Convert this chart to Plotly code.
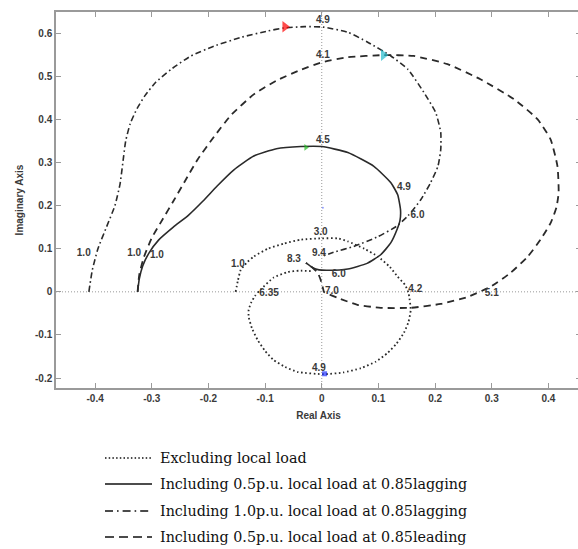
import plotly.graph_objects as go

# ---- data ----
excl_x = [-0.152, -0.148, -0.143, -0.132, -0.12, -0.095, -0.067, -0.037, 0.0, 0.028, 0.046, 0.075, 0.099, 0.12, 0.134,
          0.147, 0.153, 0.157, 0.153, 0.145, 0.132, 0.116, 0.095, 0.069, 0.038, 0.004, -0.042, -0.065, -0.085, -0.1,
          -0.113, -0.123, -0.129, -0.129, -0.125, -0.118, -0.108, -0.085, -0.06, -0.04, -0.015]
excl_y = [0.0, 0.026, 0.051, 0.068, 0.082, 0.1, 0.112, 0.121, 0.124, 0.124, 0.117, 0.1, 0.082, 0.058, 0.035,
          0.016, -0.002, -0.042, -0.07, -0.095, -0.12, -0.142, -0.162, -0.177, -0.187, -0.191, -0.186, -0.174, -0.158, -0.137,
          -0.112, -0.085, -0.058, -0.042, -0.026, -0.01, 0.005, 0.033, 0.046, 0.049, 0.048]

lag05_x = [-0.325, -0.322, -0.316, -0.305, -0.288, -0.262, -0.235, -0.21, -0.185, -0.155, -0.12, -0.08, -0.037, 0.0,
           0.046, 0.092, 0.122, 0.134, 0.139, 0.138, 0.133, 0.122, 0.104, 0.08, 0.046, 0.011, -0.005, -0.016, -0.028]
lag05_y = [0.0, 0.03, 0.06, 0.09, 0.12, 0.15, 0.178, 0.21, 0.245, 0.283, 0.315, 0.332, 0.337, 0.337,
           0.323, 0.291, 0.253, 0.225, 0.19, 0.165, 0.145, 0.114, 0.086, 0.066, 0.053, 0.05, 0.051, 0.056, 0.067]

lag10_x = [-0.411, -0.405, -0.395, -0.38, -0.365, -0.356, -0.351, -0.346, -0.338, -0.326, -0.312, -0.293, -0.266,
           -0.231, -0.19, -0.143, -0.095, -0.067, -0.03, 0.002, 0.046, 0.081, 0.122, 0.152, 0.18, 0.201, 0.21, 0.21,
           0.205, 0.192, 0.175, 0.152, 0.132, 0.099, 0.056, 0.021, 0.0]
lag10_y = [0.0, 0.05, 0.1, 0.15, 0.2, 0.25, 0.3, 0.35, 0.39, 0.425, 0.455, 0.486, 0.516,
           0.547, 0.57, 0.59, 0.605, 0.612, 0.615, 0.614, 0.602, 0.579, 0.547, 0.516, 0.463, 0.416, 0.37, 0.33,
           0.291, 0.253, 0.214, 0.176, 0.152, 0.128, 0.105, 0.092, 0.082]

lead05_x = [-0.325, -0.322, -0.314, -0.3, -0.28, -0.262, -0.24, -0.219, -0.19, -0.16, -0.12, -0.08, -0.037, 0.002,
            0.046, 0.109, 0.162, 0.222, 0.28, 0.339, 0.381, 0.404, 0.416, 0.418, 0.414, 0.404, 0.386, 0.363, 0.333,
            0.298, 0.257, 0.21, 0.157, 0.104, 0.063, 0.028, 0.004, 0.002, -0.002, -0.007, -0.016, -0.028]
lead05_y = [0.0, 0.04, 0.08, 0.125, 0.17, 0.21, 0.26, 0.307, 0.36, 0.41, 0.458, 0.49, 0.515, 0.533,
            0.544, 0.549, 0.547, 0.528, 0.493, 0.447, 0.4, 0.353, 0.291, 0.23, 0.195, 0.16, 0.121, 0.081, 0.044,
            0.012, -0.012, -0.028, -0.037, -0.037, -0.03, -0.014, 0.0, 0.009, 0.028, 0.044, 0.056, 0.067]

series_names = ["Excluding local load",
                "Including 0.5p.u. local load at 0.85lagging",
                "Including 1.0p.u. local load at 0.85lagging",
                "Including 0.5p.u. local load at 0.85leading"]

label_x = [0.002, 0.002, 0.002, 0.145, 0.169, -0.002, -0.005, -0.049, 0.03, 0.018, 0.165, 0.3, -0.005,
           -0.148, -0.093, -0.42, -0.331, -0.291]
label_y = [0.63, 0.548, 0.35, 0.243, 0.176, 0.138, 0.088, 0.074, 0.04, 0.0, 0.005, -0.004, -0.177,
           0.063, -0.003, 0.09, 0.09, 0.084]
label_text = ["4.9", "4.1", "4.5", "4.9", "6.0", "3.0", "9.4", "8.3", "6.0", "7.0", "4.2", "5.1", "4.9",
              "1.0", "6.35", "1.0", "1.0", "1.0"]

marker_x = [-0.065, 0.109, -0.028, 0.005, 0.002]
marker_y = [0.615, 0.549, 0.335, -0.19, 0.195]
marker_sym = ["triangle-right", "triangle-right", "triangle-right", "square", "circle"]
marker_col = ["#ff0000", "#22bbcc", "#22bb22", "#2233ff", "#6677ff"]
marker_size = [10, 10, 6, 5, 2]

x_ticks = [-0.4, -0.3, -0.2, -0.1, 0, 0.1, 0.2, 0.3, 0.4]
y_ticks = [-0.2, -0.1, 0, 0.1, 0.2, 0.3, 0.4, 0.5, 0.6]

# ---- layout constants (pixels) ----
W, H = 581, 549
L, R, T, B = 56, 0, 12, 161
PW, PH = W - L - R, H - T - B

def px_x(p):
    return (p - L) / PW

def px_y(p):
    return (H - B - p) / PH

# ---- figure ----
fig = go.Figure()
line_col = "#2a2a2a"
styles = [
    dict(width=1.8, dash="1.6px,2.6px"),
    dict(width=1.6, dash="solid"),
    dict(width=1.6, dash="6px,3px,1.6px,3px"),
    dict(width=1.8, dash="7px,5px"),
]
data_sets = [(excl_x, excl_y), (lag05_x, lag05_y), (lag10_x, lag10_y), (lead05_x, lead05_y)]
for i, ((xs, ys), nm, st) in enumerate(zip(data_sets, series_names, styles)):
    fig.add_trace(go.Scatter(x=xs, y=ys, mode="lines", name=nm, showlegend=False,
                             line=dict(color=line_col, shape="spline", smoothing=0.5, **st)))

fig.add_trace(go.Scatter(x=label_x, y=label_y, mode="text", text=[f"<b>{t}</b>" for t in label_text],
                         showlegend=False, textfont=dict(family="Arial", size=10, color="#3a3a3a")))
fig.add_trace(go.Scatter(x=marker_x, y=marker_y, mode="markers", showlegend=False,
                         marker=dict(symbol=marker_sym, color=marker_col, size=marker_size, line=dict(width=0))))

# dotted zero lines
fig.add_shape(type="line", xref="x", yref="paper", x0=0, x1=0, y0=0, y1=1,
              line=dict(color="#999999", width=1, dash="1px,2px"), layer="below")
fig.add_shape(type="line", xref="paper", yref="y", x0=0, x1=1, y0=0, y1=0,
              line=dict(color="#999999", width=1, dash="1px,2px"), layer="below")

# legend below the axes (line samples + serif text)
legend_rows_px = [458, 484, 511, 537]
legend_dash = ["1.5px,2.2px", "solid", "8px,4px,1.6px,4px", "9px,5px"]
for nm, rp, dsh in zip(series_names, legend_rows_px, legend_dash):
    yy = px_y(rp)
    fig.add_shape(type="line", xref="paper", yref="paper", x0=px_x(105), x1=px_x(152), y0=yy, y1=yy,
                  line=dict(color="#111111", width=1.6, dash=dsh))
    fig.add_annotation(xref="paper", yref="paper", x=px_x(158), y=yy, text=nm, showarrow=False,
                       xanchor="left", yanchor="middle",
                       font=dict(family="DejaVu Serif", size=14.3, color="#111111"))

axis_common = dict(showgrid=False, zeroline=False, showline=True, linecolor="#9a9a9a", linewidth=1.5,
                   mirror="ticks", ticks="inside", ticklen=5, tickcolor="#9a9a9a", tickwidth=1,
                   automargin=False,
                   tickfont=dict(family="Arial", size=10, color="#3a3a3a"))
fig.update_xaxes(range=[-0.469, 0.4575], tickvals=x_ticks, ticktext=[f"<b>{v:g}</b>" for v in x_ticks],
                 title=dict(text="<b>Real Axis</b>", font=dict(family="Arial", size=10, color="#3a3a3a"), standoff=9),
                 **axis_common)
fig.update_yaxes(range=[-0.223, 0.649], tickvals=y_ticks, ticktext=[f"<b>{v:g}</b>" for v in y_ticks],
                 title=dict(text="<b>Imaginary Axis</b>", font=dict(family="Arial", size=10, color="#3a3a3a"), standoff=10),
                 **axis_common)

fig.update_layout(
    width=W, height=H,
    margin=dict(l=L, r=R, t=T, b=B),
    plot_bgcolor="white", paper_bgcolor="white",
    showlegend=False,
)

fig.write_html("out.html", config={"displayModeBar": False},
               post_script="document.body.style.margin='0px';document.body.style.overflow='hidden';")
